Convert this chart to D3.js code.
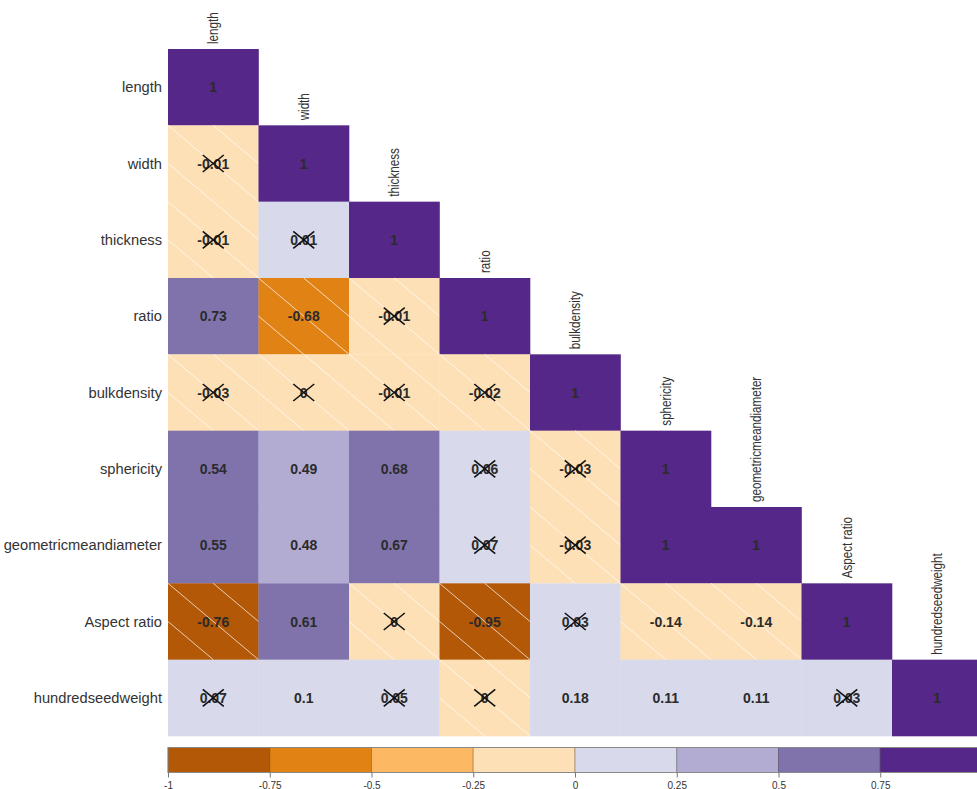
<!DOCTYPE html>
<html><head><meta charset="utf-8">
<script src="https://cdn.jsdelivr.net/npm/d3@7"></script>
<style>body{margin:0;background:#fff;overflow:hidden}</style>
</head><body><svg id="c" width="977" height="789"></svg>
<script>
const variables = ["length","width","thickness","ratio","bulkdensity","sphericity","geometricmeandiameter","Aspect ratio","hundredseedweight"];
// lower triangle of the correlation matrix (row i, columns 0..i)
const corrRows = [
 [1],
 [-0.01,1],
 [-0.01,0.01,1],
 [0.73,-0.68,-0.01,1],
 [-0.03,-0.004,-0.01,-0.02,1],
 [0.54,0.49,0.68,0.06,-0.03,1],
 [0.55,0.48,0.67,0.07,-0.03,1,1],
 [-0.76,0.61,-0.004,-0.95,0.03,-0.14,-0.14,1],
 [0.07,0.1,0.05,-0.004,0.18,0.11,0.11,0.03,1]
];
// 1 = not significant (crossed out)
const insignificant = [
 [0],
 [1,0],
 [1,1,0],
 [0,0,1,0],
 [1,1,1,1,0],
 [0,0,0,1,1,0],
 [0,0,0,1,1,0,0],
 [0,0,1,0,1,0,0,0],
 [1,0,1,1,0,0,0,1,0]
];
const binBreaks = [-1,-0.75,-0.5,-0.25,0,0.25,0.5,0.75,1];
const binColors = ["#b35806","#e08214","#fdb863","#fee0b6","#d8daeb","#b2abd2","#8073ac","#542788"];
const legendTicks = [-1,-0.75,-0.5,-0.25,0,0.25,0.5,0.75,1];

const svg = d3.select("#c");
const x = d3.scaleBand().domain(variables).range([168, 982.5]);
const y = d3.scaleBand().domain(variables).range([49, 736]);
const color = d3.scaleThreshold().domain(binBreaks.slice(1,-1)).range(binColors);
const fmt = v => { const r = Math.round(v*100)/100; return r === 0 ? "0" : String(r); };

const cells = [];
corrRows.forEach((row,i) => row.forEach((v,j) => cells.push({i,j,v,ns:insignificant[i][j]})));

const w = x.bandwidth(), h = y.bandwidth();
const g = svg.append("g");
const cg = g.selectAll("g.cell").data(cells).join("g")
  .attr("transform", d => `translate(${x(variables[d.j])},${y(variables[d.i])})`);
cg.append("rect").attr("width", w+0.3).attr("height", h+0.3).attr("fill", d => color(d.v));
// hatching for negative correlations
cg.filter(d => d.v < 0).each(function(){
  const s = d3.select(this);
  const segs = [[0,0,w,h],[w/2,0,w,h/2],[0,h/2,w/2,h]];
  s.selectAll("line.h").data(segs).join("line").attr("class","h")
    .attr("x1",s=>s[0]).attr("y1",s=>s[1]).attr("x2",s=>s[2]).attr("y2",s=>s[3])
    .attr("stroke","#fff").attr("stroke-opacity",0.7).attr("stroke-width",1);
});
cg.append("text").attr("x", w/2).attr("y", h/2).attr("dy","0.36em")
  .attr("text-anchor","middle")
  .style("font-family","'Liberation Sans', Arial, sans-serif").style("font-size","14px").style("font-weight","bold")
  .attr("fill","#2b2b2b").text(d => fmt(d.v));
const cx = 10.5, cy = 8.5;
cg.filter(d => d.ns).each(function(){
  const s = d3.select(this);
  s.append("line").attr("x1",w/2-cx).attr("y1",h/2-cy).attr("x2",w/2+cx).attr("y2",h/2+cy);
  s.append("line").attr("x1",w/2-cx).attr("y1",h/2+cy).attr("x2",w/2+cx).attr("y2",h/2-cy);
  s.selectAll("line:not(.h)").attr("stroke","#111").attr("stroke-width",1.6);
});

// row labels
svg.append("g").selectAll("text").data(variables).join("text")
  .attr("x", 162).attr("y", d => y(d) + h/2).attr("dy","0.36em")
  .attr("text-anchor","end")
  .style("font-family","'Liberation Sans', Arial, sans-serif").style("font-size","14.7px")
  .attr("fill","#333").text(d => d);
// column labels (above diagonal), condensed
svg.append("g").selectAll("text").data(variables).join("text")
  .attr("transform", d => `translate(${x(d)+w/2},${y(d)-5}) rotate(-90) scale(0.83,1)`)
  .attr("dy","0.36em")
  .attr("text-anchor","start")
  .style("font-family","'Liberation Sans', Arial, sans-serif").style("font-size","14px")
  .attr("fill","#333").text(d => d);

// legend
const lx = d3.scaleLinear().domain([-1,1]).range([168, 982]);
const ly0 = 747.5, lh = 25;
const lg = svg.append("g");
lg.selectAll("rect").data(binColors).join("rect")
  .attr("x", (c,k) => lx(binBreaks[k])).attr("y", ly0)
  .attr("width", (c,k) => lx(binBreaks[k+1]) - lx(binBreaks[k])).attr("height", lh)
  .attr("fill", c => c).attr("stroke","rgba(0,0,0,0.25)").attr("stroke-width",1);
lg.append("rect").attr("x", lx(-1)).attr("y", ly0).attr("width", lx(1)-lx(-1)).attr("height", lh)
  .attr("fill","none").attr("stroke","#888").attr("stroke-width",1);
const axis = d3.axisBottom(lx).tickValues(legendTicks).tickFormat(d => String(d)).tickSize(5).tickPadding(4);
const ag = lg.append("g").attr("transform", `translate(0,${ly0+lh})`).call(axis);
ag.select(".domain").remove();
ag.selectAll("line").attr("stroke","#777");
ag.selectAll("text").attr("fill","#333").style("font-family","'Liberation Sans', Arial, sans-serif").style("font-size","10px");
</script></body></html>
